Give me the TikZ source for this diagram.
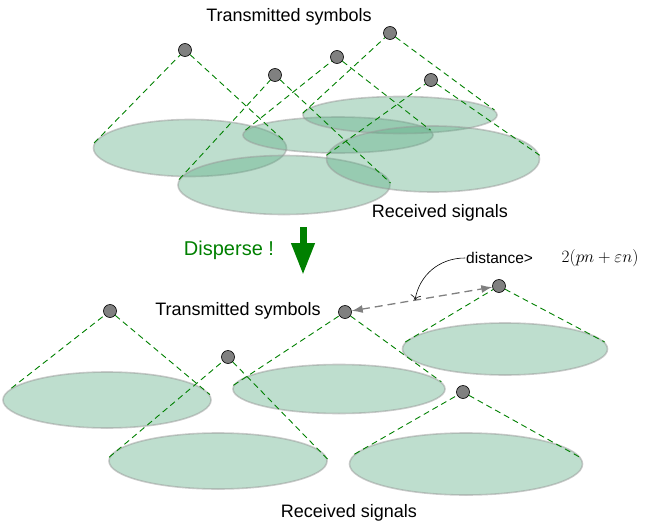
\documentclass[tikz,border=0pt]{standalone}
\usepackage{fontspec}
\setmainfont{Liberation Sans}
\usepackage{tikz}
\usetikzlibrary{arrows.meta,positioning,shapes.geometric}
\definecolor{verde}{RGB}{0,128,0}
\definecolor{gris}{RGB}{128,128,128}
\definecolor{menta}{RGB}{93,173,133}

\begin{document}
\begin{tikzpicture}[x=1pt,y=-1pt,>=Latex,line cap=round,
  symb/.style={circle,draw=black,line width=0.6pt,fill=gris,minimum size=13pt,inner sep=0pt},
  recv/.style 2 args={ellipse,fill=menta,fill opacity=0.4,draw=black!40,draw opacity=0.5,
                      line width=1.6pt,minimum width=#1,minimum height=#2,inner sep=0pt},
  cone/.style={verde,line width=0.9pt,dash pattern=on 6pt off 4pt,line cap=butt},
  lbl/.style={font=\fontsize{18}{21}\selectfont}]
  \useasboundingbox (0,0) rectangle (654,525);
  % --- panel superior: simbolos juntos ---
  \begin{scope}
    \node[recv={193}{57}] (R1) at (190,148) {};
    \node[recv={190}{36}] (R2) at (338,135) {};
    \node[recv={194}{37}] (R3) at (400,115) {};
    \node[recv={212}{59}] (R4) at (284,185) {};
    \node[recv={213}{66}] (R5) at (433,159) {};
    \node[symb] (S1) at (185,50) {};
    \node[symb] (S2) at (275,75) {};
    \node[symb] (S3) at (337,57) {};
    \node[symb] (S4) at (390,33) {};
    \node[symb] (S5) at (431,80) {};
    \draw[cone] (R1.177) -- (S1) -- (R1.4);
    \draw[cone] (R4.177) -- (S2) -- (R4.1);
    \draw[cone] (R2.177) -- (S3) -- (R2.3);
    \draw[cone] (R3.179) -- (S4) -- (R3.3);
    \draw[cone] (R5.178) -- (S5) -- (R5.2);
    \node[lbl] (tx1) at (289,17) {Transmitted symbols};
    \node[lbl] (rx1) at (440,213) {Received signals};
  \end{scope}
  % --- dispersar ---
  \coordinate (dA) at (303,227);
  \coordinate (dB) at (303,275);
  \draw[verde,line width=7pt,line cap=butt,-{Triangle[length=32pt,width=22pt]}] (dA) -- (dB);
  \node[verde,font=\fontsize{20}{23}\selectfont] (disp) at (229,250) {Disperse !};
  % --- panel inferior: simbolos separados ---
  \begin{scope}
    \node[recv={208}{56}] (R6) at (107,400) {};
    \node[recv={212}{49}] (R7) at (339,389) {};
    \node[recv={205}{52}] (R8) at (505,349) {};
    \node[recv={218}{56}] (R9) at (218,461) {};
    \node[recv={233}{62}] (R10) at (466,464) {};
    \node[symb] (S6) at (110,311) {};
    \node[symb] (S7) at (228,357) {};
    \node[symb] (S8) at (345,312) {};
    \node[symb] (S9) at (499,286) {};
    \node[symb] (S10) at (463,392) {};
    \draw[cone] (R6.173) -- (S6) -- (R6.3);
    \draw[cone] (R9.178) -- (S7) -- (R9.1);
    \draw[cone] (R7.178) -- (S8) -- (R7.4);
    \draw[cone] (R8.176) -- (S9) -- (R8.4);
    \draw[cone] (R10.175) -- (S10) -- (R10.3);
    \draw[gris,line width=1.3pt,dash pattern=on 8pt off 5pt,line cap=butt,
          {Latex[length=11pt,width=8pt]}-{Latex[length=11pt,width=8pt]}] (S8) -- (S9);
    \node[lbl] (tx2) at (238,311) {Transmitted symbols};
    \node[lbl] (rx2) at (349,513) {Received signals};
    % distancia minima
    \node[font=\fontsize{15.5}{18}\selectfont,anchor=west,inner sep=1pt] (dist) at (465,258) {distance>};
    \node[font=\fontsize{18}{21}\selectfont,right=24pt of dist] (cota) {$2(pn+\varepsilon n)$};
    \coordinate (flecha) at (415,300);
    \draw[line width=0.6pt,-{To[length=5pt]}] (dist.west) to[out=180,in=80] (flecha);
  \end{scope}
\end{tikzpicture}
\end{document}
